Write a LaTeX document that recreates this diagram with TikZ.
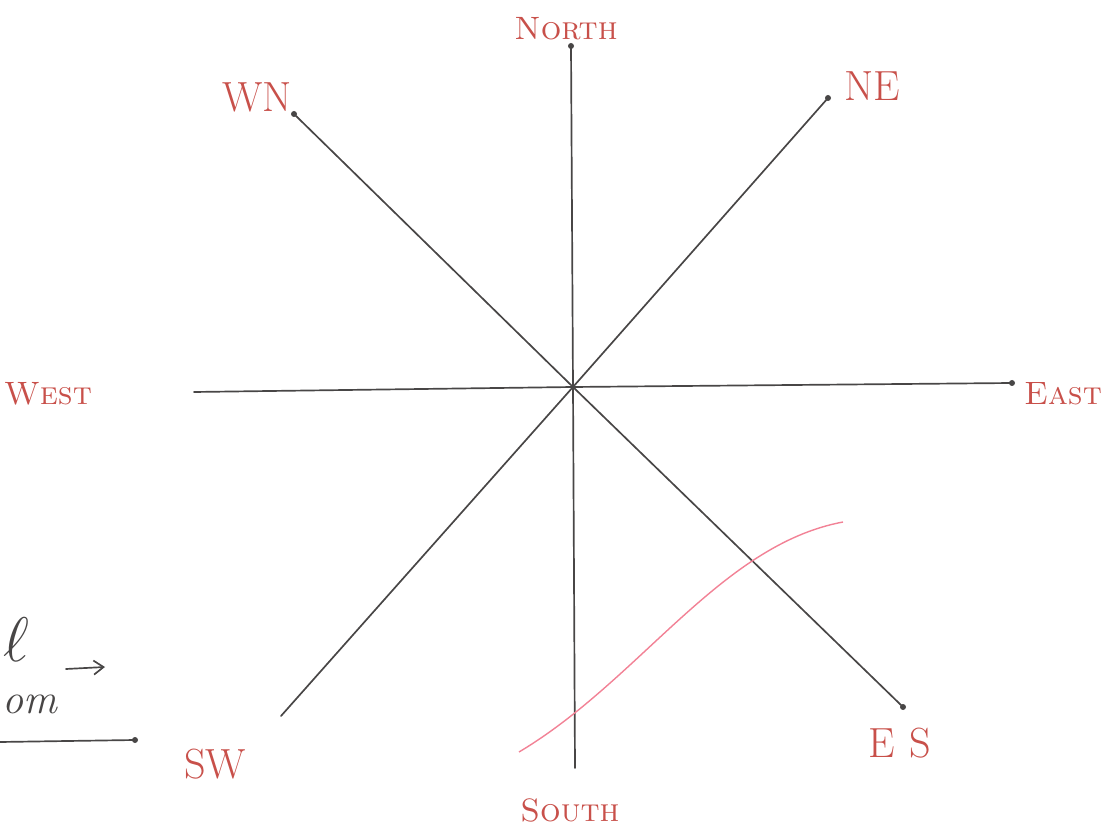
\documentclass[tikz,border=0pt]{standalone}
\usepackage{xcolor}
\definecolor{ink}{RGB}{72,70,70}
\definecolor{redink}{RGB}{200,80,74}
\definecolor{pinkink}{RGB}{242,130,150}
\usetikzlibrary{arrows.meta}
\tikzset{
  spoke/.style={draw=ink,line width=1.2pt,line cap=round},
  pendot/.style={fill=ink},
  dirlabel/.style={text=redink,font=\fontsize{23}{27}\selectfont,inner sep=1pt},
  shortlabel/.style={dirlabel,font=\fontsize{30}{34}\selectfont},
  note/.style={text=ink,font=\fontsize{30}{34}\selectfont\itshape,inner sep=1pt},
  curve/.style={draw=pinkink,line width=1pt},
}

\begin{document}
\begin{tikzpicture}[x=0.025cm,y=-0.025cm]
\useasboundingbox (0,0) rectangle (1112,832);
% spoke ends
\coordinate (o) at (573,387);
\coordinate (n) at (571,46);
\coordinate (s) at (575,768);
\coordinate (w) at (194,392);
\coordinate (e) at (1012,383);
\coordinate (wn) at (294,114);
\coordinate (es) at (903,707);
\coordinate (ne) at (828,98);
\coordinate (sw) at (281,716);
% labels
\node[dirlabel] (north) at (566,29) {\textsc{North}};
\node[dirlabel] (south) at (570,810) {\textsc{South}};
\node[dirlabel] (west) at (48,394) {\textsc{West}};
\node[dirlabel] (east) at (1063,394) {\textsc{East}};
\node[shortlabel] (wnl) at (257,97) {WN};
\node[shortlabel] (nel) at (872,86) {NE};
\node[shortlabel] (swl) at (215,764) {SW};
\node[shortlabel] (esl) at (900,743) {E\,\,S};
% spokes
\draw[spoke] (n) -- (o) -- (s);
\draw[spoke] (w) -- (o) -- (e);
\draw[spoke] (wn) -- (o) -- (es);
\draw[spoke] (ne) -- (o) -- (sw);
\foreach \p in {n,wn,ne,es,e}
  \fill[pendot] (\p) circle (3);
% pink stroke
\coordinate (c1) at (519,752);
\coordinate (c2) at (843,522);
\draw[curve] (c1) .. controls (640,680) and (720,545) .. (c2);
% note at the left edge
\node[note] (ell) at (16,640) {\scalebox{1.8}{$\ell$}};
\coordinate (a1) at (66,669);
\coordinate (a2) at (105,667);
\draw[spoke,-{Straight Barb[length=7pt,width=10pt]}] (a1) -- (a2);
\node[note,anchor=west] (om) at (1,704) {om};
\coordinate (u1) at (0,742);
\coordinate (u2) at (135,740);
\draw[spoke] (u1) -- (u2);
\fill[pendot] (u2) circle (3);
\end{tikzpicture}
\end{document}
